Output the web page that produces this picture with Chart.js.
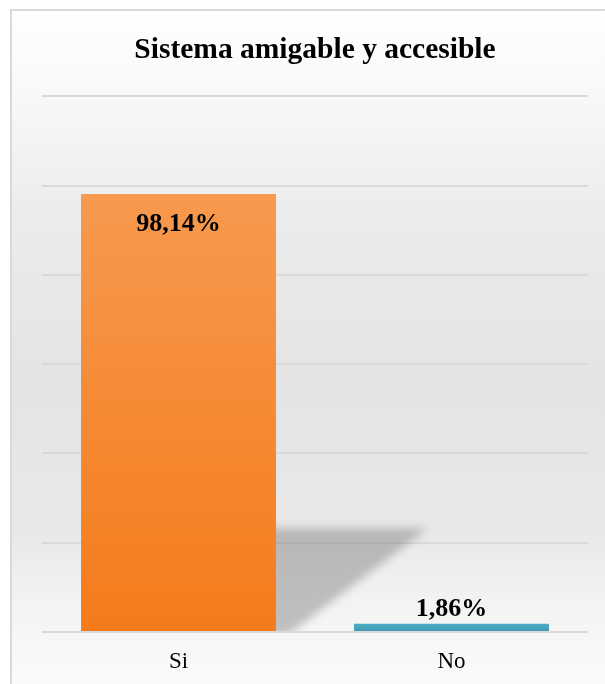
<!DOCTYPE html>
<html>
<head>
<meta charset="utf-8">
<script src="https://cdn.jsdelivr.net/npm/chart.js@4.4.1/dist/chart.umd.min.js"></script>
<style>
  html, body { margin: 0; padding: 0; background: #ffffff; }
  #wrap { width: 605px; height: 684px; position: relative; }
</style>
</head>
<body>
<div id="wrap"><canvas id="c" width="605" height="684"></canvas></div>
<script>
const chartTitle = "Sistema amigable y accesible";
const categories = ["Si", "No"];
const percentValues = [98.14, 1.86];
const valueLabels = ["98,14%", "1,86%"];
const axisMax = 120;
const axisStep = 20;

const serif = '"Liberation Serif", "Times New Roman", Times, serif';

const backgroundPlugin = {
  id: 'bgBox',
  beforeDraw(chart) {
    const ctx = chart.ctx;
    const W = chart.width, H = chart.height;
    ctx.save();
    ctx.fillStyle = '#ffffff';
    ctx.fillRect(0, 0, W, H);
    const g = ctx.createLinearGradient(0, 10, 0, H);
    g.addColorStop(0, '#ffffff');
    g.addColorStop(0.13, '#f8f8f8');
    g.addColorStop(0.3, '#ececec');
    g.addColorStop(0.55, '#e4e4e4');
    g.addColorStop(0.78, '#e9e9e9');
    g.addColorStop(0.88, '#f3f3f3');
    g.addColorStop(1, '#fbfbfb');
    ctx.fillStyle = g;
    ctx.fillRect(12, 11, W, H);
    ctx.strokeStyle = '#d9d9d9';
    ctx.lineWidth = 2;
    ctx.strokeRect(11, 10, W + 10, H + 10);
    ctx.restore();
  }
};

const shadowPlugin = {
  id: 'barShadow',
  beforeDatasetsDraw(chart) {
    const meta = chart.getDatasetMeta(0);
    const bar = meta.data[0];
    if (!bar) return;
    const ctx = chart.ctx;
    const right = bar.x + bar.width / 2;
    const base = bar.base;
    const h = (base - bar.y) * 0.235;
    const ext = bar.width * 0.78;
    ctx.save();
    ctx.beginPath();
    ctx.rect(right, chart.chartArea.top, chart.chartArea.right - right, base - chart.chartArea.top);
    ctx.clip();
    ctx.filter = 'blur(4px)';
    ctx.fillStyle = 'rgba(110,110,110,0.4)';
    ctx.beginPath();
    ctx.moveTo(right - 10, base - h);
    ctx.lineTo(right + ext, base - h);
    ctx.lineTo(right + 12, base + 4);
    ctx.lineTo(right - 10, base + 4);
    ctx.closePath();
    ctx.fill();
    ctx.restore();
  }
};

const labelPlugin = {
  id: 'valueLabels',
  afterDatasetsDraw(chart) {
    const ctx = chart.ctx;
    const meta = chart.getDatasetMeta(0);
    ctx.save();
    ctx.font = 'bold 26px ' + serif;
    ctx.fillStyle = '#000000';
    ctx.textAlign = 'center';
    ctx.textBaseline = 'alphabetic';
    meta.data.forEach((bar, i) => {
      const v = percentValues[i];
      const y = v > 50 ? bar.y + 37 : bar.y - 8;
      ctx.fillText(valueLabels[i], bar.x, y);
    });
    ctx.restore();
  }
};

new Chart(document.getElementById('c'), {
  type: 'bar',
  data: {
    labels: categories,
    datasets: [{
      data: percentValues,
      backgroundColor(context) {
        const chart = context.chart;
        const area = chart.chartArea;
        if (!area) return '#f58a33';
        const ctx = chart.ctx;
        if (context.dataIndex === 0) {
          const g = ctx.createLinearGradient(0, area.top, 0, area.bottom);
          g.addColorStop(0, '#f8a05a');
          g.addColorStop(1, '#f47b1b');
          return g;
        }
        const y = chart.scales.y;
        const top = y.getPixelForValue(context.raw);
        const base = y.getPixelForValue(0);
        const g = ctx.createLinearGradient(0, top, 0, base);
        g.addColorStop(0, '#4cadc7');
        g.addColorStop(1, '#3c97ae');
        return g;
      },
      borderWidth: 0,
      barPercentage: 0.714,
      categoryPercentage: 1.0
    }]
  },
  options: {
    responsive: false,
    animation: false,
    devicePixelRatio: 1,
    layout: { padding: { left: 42, right: 17, top: 0, bottom: 10 } },
    plugins: {
      legend: { display: false },
      tooltip: { enabled: false },
      title: {
        display: true,
        text: chartTitle,
        color: '#000000',
        font: { family: serif, size: 29.5, weight: 'bold', lineHeight: 1.2 },
        padding: { top: 33, bottom: 28 }
      }
    },
    scales: {
      x: {
        grid: { display: false, drawTicks: false },
        border: { display: false },
        ticks: { color: '#000000', font: { family: serif, size: 23 }, padding: 16 },
        afterFit(scale) { scale.height = 42; }
      },
      y: {
        min: 0,
        max: axisMax,
        ticks: { display: false, stepSize: axisStep },
        grid: { color: '#d9d9d9', lineWidth: 2, drawTicks: false },
        border: { display: false }
      }
    }
  },
  plugins: [backgroundPlugin, shadowPlugin, labelPlugin]
});
</script>
</body>
</html>
